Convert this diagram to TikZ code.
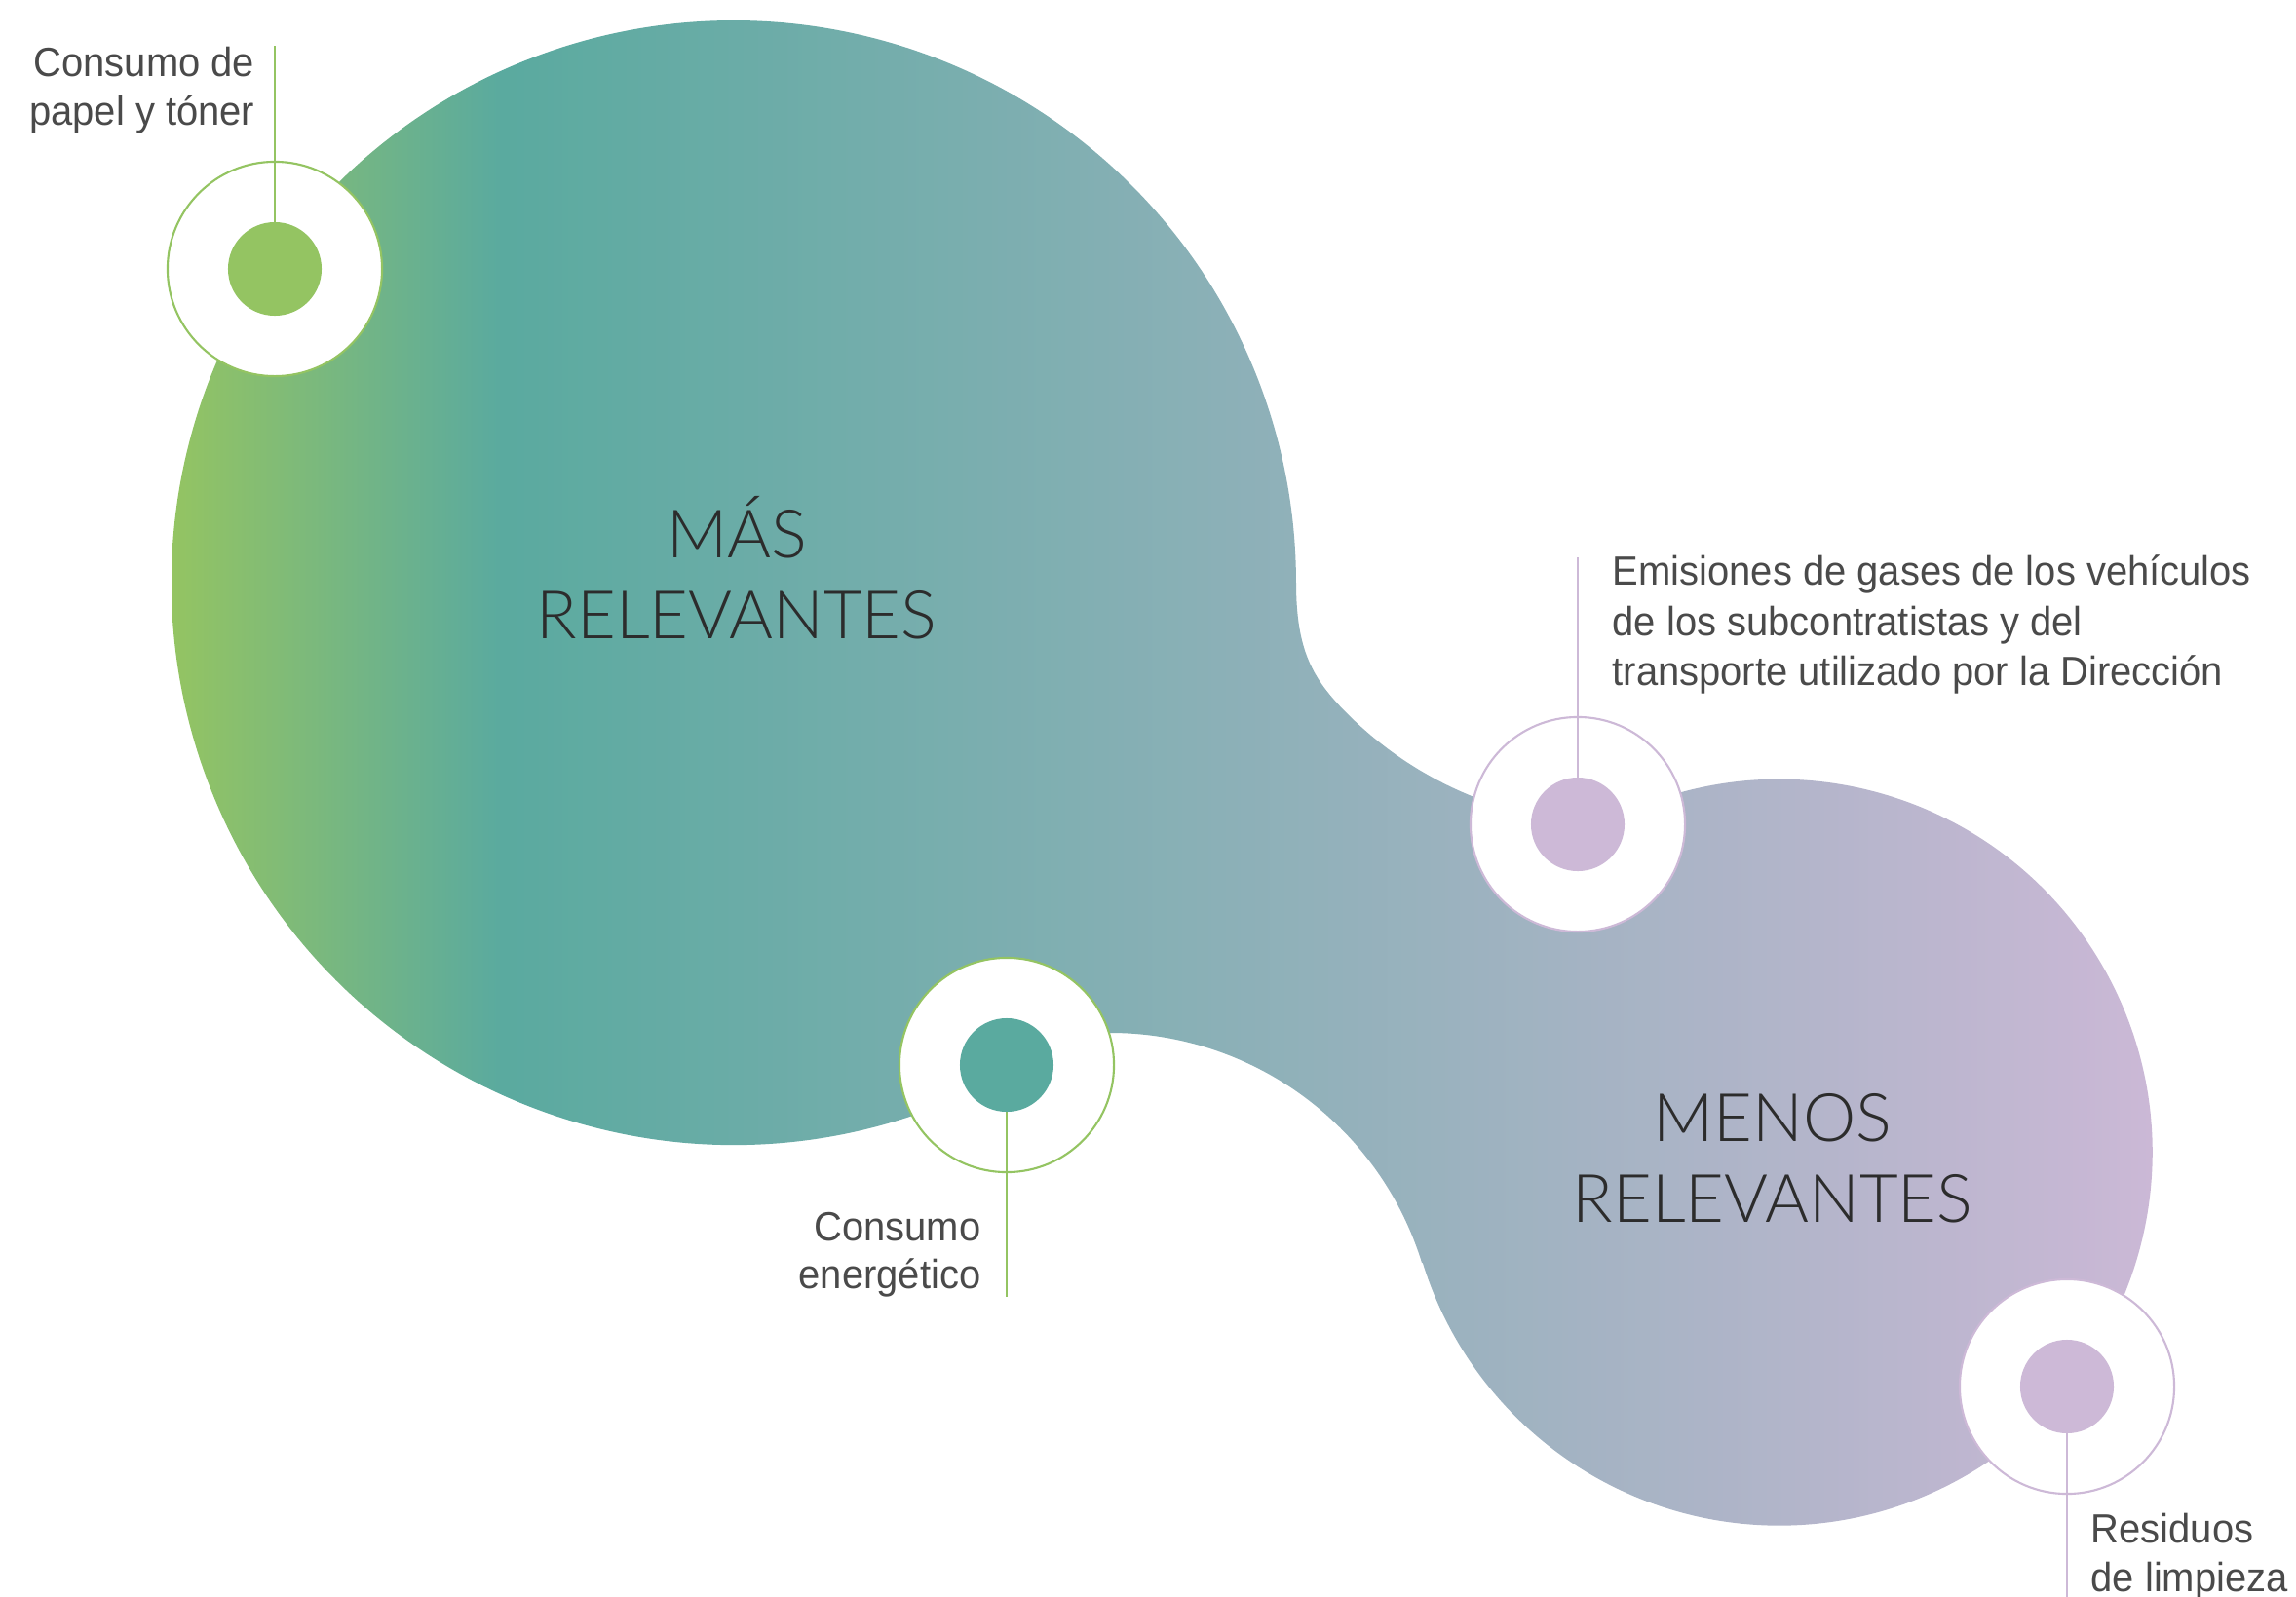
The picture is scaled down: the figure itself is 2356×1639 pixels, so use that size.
\documentclass[tikz,border=0pt]{standalone}
\usepackage{fontspec}
\setmainfont{Liberation Sans}[FakeStretch=0.955]
\newfontfamily\bigfont{Lato Light}
\definecolor{cg}{HTML}{94C462}
\definecolor{ct}{HTML}{5AAA9F}
\definecolor{cl}{HTML}{CBB8D6}
\definecolor{lav}{HTML}{CDB9D7}
\definecolor{txt}{HTML}{4A4A4A}
\definecolor{bigtxt}{HTML}{2C2C2C}
\pgfdeclarehorizontalshading{blobshade}{100bp}{color(0bp)=(cg); color(25bp)=(cg); color(33.35bp)=(ct); color(75bp)=(cl); color(100bp)=(cl)}
\begin{document}
\begin{tikzpicture}[x=0.01cm,y=-0.01cm,
  ringnode/.style={circle, minimum size=2.2cm, inner sep=0pt, fill=white, draw, line width=0.6pt},
  dotnode/.style={circle, minimum size=0.96cm, inner sep=0pt},
  lbl/.style={inner sep=0pt, text=txt, font=\fontsize{11.9}{14}\selectfont},
  bigl/.style={inner sep=0pt, text=bigtxt, font=\bigfont\fontsize{19.5}{23}\selectfont},
  stem/.style={line width=0.6pt}]
\useasboundingbox (0,0) rectangle (2356,1639);
% blob
\begin{scope}
\clip (1330,598) .. controls (1330,668) and (1347.2,697.2) .. (1382.5,732.5)
  arc[start angle=135, end angle=91.3, radius=384]
  arc[start angle=241.9, end angle=522.85, radius=383]
  -- (1459.1,1296.2)
  arc[start angle=342.85, end angle=250, radius=335]
  -- (950.3,1140.2)
  arc[start angle=70, end angle=360, radius=577] -- cycle;
\shade[shading=blobshade] (176,0) rectangle (2209,1639);
\end{scope}
% markers
\node[ringnode, draw=cg] (r1) at (282,276) {};
\coordinate (t1) at (282,47);
\draw[stem, cg] (t1) -- (r1.center);
\node[dotnode, fill=cg] (d1) at (282,276) {};

\node[ringnode, draw=cg] (r2) at (1033,1093) {};
\coordinate (t2) at (1033,1331);
\draw[stem, cg] (r2.center) -- (t2);
\node[dotnode, fill=ct] (d2) at (1033,1093) {};

\node[ringnode, draw=lav] (r3) at (1619,846) {};
\coordinate (t3) at (1619,572);
\draw[stem, lav] (t3) -- (r3.center);
\node[dotnode, fill=lav] (d3) at (1619,846) {};

\node[ringnode, draw=lav] (r4) at (2121,1423) {};
\coordinate (t4) at (2121,1639);
\draw[stem, lav] (r4.center) -- (t4);
\node[dotnode, fill=lav] (d4) at (2121,1423) {};
% labels
\node[lbl, anchor=base east] (a1) at (262,78) {Consumo de};
\node[lbl, anchor=base east] (a2) at (262,128) {papel y tóner};
\node[lbl, anchor=base east] (b1) at (1007,1273) {Consumo};
\node[lbl, anchor=base east] (b2) at (1007,1322) {energético};
\node[lbl, anchor=base west] (e1) at (1654,600) {Emisiones de gases de los vehículos};
\node[lbl, anchor=base west] (e2) at (1654,652) {de los subcontratistas y del};
\node[lbl, anchor=base west] (e3) at (1654,703) {transporte utilizado por la Dirección};
\node[lbl, anchor=base west] (f1) at (2145,1583) {Residuos};
\node[lbl, anchor=base west] (f2) at (2145,1633) {de limpieza};
% titles
\node[bigl, anchor=base] (m1) at (756,572) {MÁS};
\node[bigl, anchor=base] (m2) at (756,655) {RELEVANTES};
\node[bigl, anchor=base] (n1) at (1819,1171) {MENOS};
\node[bigl, anchor=base] (n2) at (1819,1254) {RELEVANTES};
\end{tikzpicture}
\end{document}
